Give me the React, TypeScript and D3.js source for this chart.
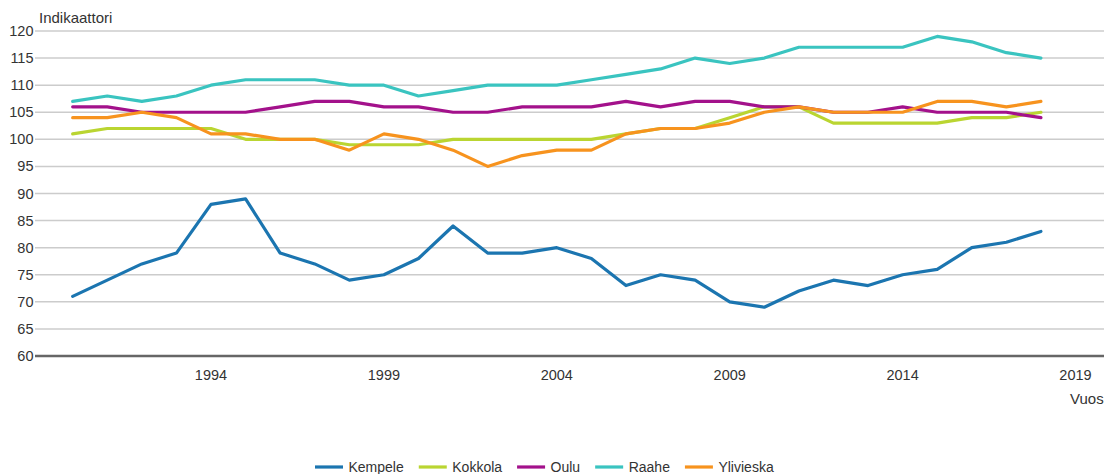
import React, { useEffect, useRef } from 'react';
import * as d3 from 'd3';

const years = [1990, 1991, 1992, 1993, 1994, 1995, 1996, 1997, 1998, 1999, 2000, 2001, 2002, 2003, 2004, 2005, 2006, 2007, 2008, 2009, 2010, 2011, 2012, 2013, 2014, 2015, 2016, 2017, 2018];

const kempele = [71, 74, 77, 79, 88, 89, 79, 77, 74, 75, 78, 84, 79, 79, 80, 78, 73, 75, 74, 70, 69, 72, 74, 73, 75, 76, 80, 81, 83];
const kokkola = [101, 102, 102, 102, 102, 100, 100, 100, 99, 99, 99, 100, 100, 100, 100, 100, 101, 102, 102, 104, 106, 106, 103, 103, 103, 103, 104, 104, 105];
const oulu = [106, 106, 105, 105, 105, 105, 106, 107, 107, 106, 106, 105, 105, 106, 106, 106, 107, 106, 107, 107, 106, 106, 105, 105, 106, 105, 105, 105, 104];
const raahe = [107, 108, 107, 108, 110, 111, 111, 111, 110, 110, 108, 109, 110, 110, 110, 111, 112, 113, 115, 114, 115, 117, 117, 117, 117, 119, 118, 116, 115];
const ylivieska = [104, 104, 105, 104, 101, 101, 100, 100, 98, 101, 100, 98, 95, 97, 98, 98, 101, 102, 102, 103, 105, 106, 105, 105, 105, 107, 107, 106, 107];

const seriesNames = ['Kempele', 'Kokkola', 'Oulu', 'Raahe', 'Ylivieska'];
const seriesValues = [kempele, kokkola, oulu, raahe, ylivieska];
const seriesColors = ['#1b75b0', '#bad531', '#a3118b', '#3ac4c0', '#f7931e'];

const yTicks = [60, 65, 70, 75, 80, 85, 90, 95, 100, 105, 110, 115, 120];
const xTicks = [1994, 1999, 2004, 2009, 2014, 2019];

const W = 1104;
const H = 474;
const FONT = '"Liberation Sans", Arial, sans-serif';
const TEXT = '#333';

export default function App() {
  const svgRef = useRef<SVGSVGElement | null>(null);

  useEffect(() => {
    if (!svgRef.current) return;
    const svg = d3.select(svgRef.current);
    svg.selectAll('*').remove();

    const plotLeft = 35;
    const x = d3.scaleLinear().domain([1994, 2019]).range([211, 1075.5]);
    const y = d3.scaleLinear().domain([60, 120]).range([356, 31]);

    // gridlines
    svg.append('g')
      .selectAll('line')
      .data(yTicks.filter(t => t !== 60))
      .enter()
      .append('line')
      .attr('x1', plotLeft)
      .attr('x2', W)
      .attr('y1', d => y(d))
      .attr('y2', d => y(d))
      .attr('stroke', '#cccccc')
      .attr('stroke-width', 1.5);

    // y tick labels
    svg.append('g')
      .selectAll('text')
      .data(yTicks)
      .enter()
      .append('text')
      .attr('x', 33.5)
      .attr('y', d => y(d))
      .attr('dy', '0.35em')
      .attr('text-anchor', 'end')
      .attr('font-family', FONT)
      .attr('font-size', 14.5)
      .attr('fill', TEXT)
      .text(d => d);

    // y axis title
    svg.append('text')
      .attr('x', 39)
      .attr('y', 23)
      .attr('font-family', FONT)
      .attr('font-size', 15)
      .attr('fill', TEXT)
      .text('Indikaattori');

    // baseline
    svg.append('line')
      .attr('x1', plotLeft)
      .attr('x2', W)
      .attr('y1', y(60))
      .attr('y2', y(60))
      .attr('stroke', '#666666')
      .attr('stroke-width', 2.5);

    // x tick labels
    svg.append('g')
      .selectAll('text')
      .data(xTicks)
      .enter()
      .append('text')
      .attr('x', d => x(d))
      .attr('y', 379.5)
      .attr('text-anchor', 'middle')
      .attr('font-family', FONT)
      .attr('font-size', 14.5)
      .attr('fill', TEXT)
      .text(d => d);

    // x axis title (cut off by the right edge, as in the original)
    svg.append('text')
      .attr('x', 1070)
      .attr('y', 404)
      .attr('font-family', FONT)
      .attr('font-size', 15)
      .attr('fill', TEXT)
      .text('Vuosi');

    // lines
    const line = d3.line<number>()
      .x((_, i) => x(years[i]))
      .y(d => y(d));

    svg.append('g')
      .selectAll('path')
      .data(seriesValues)
      .enter()
      .append('path')
      .attr('d', d => line(d))
      .attr('fill', 'none')
      .attr('stroke', (_, i) => seriesColors[i])
      .attr('stroke-width', 3.2)
      .attr('stroke-linejoin', 'round')
      .attr('stroke-linecap', 'round');

    // legend
    const legend = svg.append('g');
    const items = legend.selectAll('g')
      .data(seriesNames)
      .enter()
      .append('g');
    items.append('line')
      .attr('x1', 0)
      .attr('x2', 28)
      .attr('y1', 467)
      .attr('y2', 467)
      .attr('stroke', (_, i) => seriesColors[i])
      .attr('stroke-width', 3.2);
    items.append('text')
      .attr('x', 33.5)
      .attr('y', 472)
      .attr('font-family', FONT)
      .attr('font-size', 14)
      .attr('fill', TEXT)
      .text(d => d);

    let cx = 315;
    items.each(function () {
      const g = d3.select(this);
      const tw = (g.select('text').node() as SVGTextElement).getComputedTextLength();
      g.attr('transform', `translate(${cx},0)`);
      cx += 33.5 + tw + 15;
    });
  }, []);

  return (
    <div style={{ position: 'absolute', left: 0, top: 0, width: W, height: H, background: '#fff' }}>
      <svg ref={svgRef} width={W} height={H} style={{ display: 'block' }} />
    </div>
  );
}
